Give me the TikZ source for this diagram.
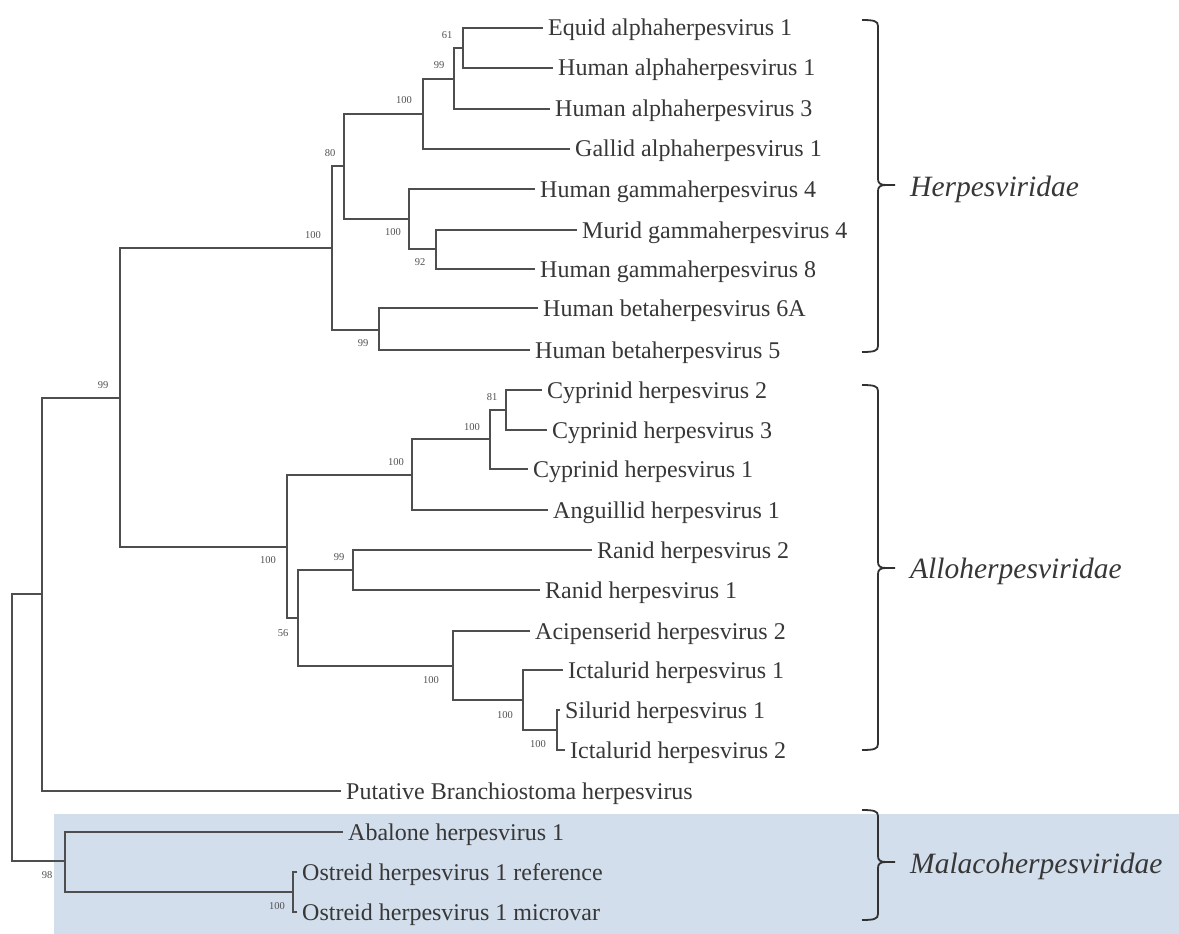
\documentclass[tikz,border=0pt]{standalone}
\usepackage{fontspec}
\setmainfont{Liberation Serif}
\definecolor{branch}{RGB}{78,78,78}
\definecolor{txt}{RGB}{55,55,55}
\definecolor{bsc}{RGB}{80,80,80}
\definecolor{malaco}{RGB}{211,222,236}
\tikzset{
  br/.style={draw=branch, line width=1.4pt, line join=miter},
  brk/.style={draw=txt!90!black, line width=1.8pt},
  leaf/.style={anchor=base west, inner sep=0pt, text=txt, font=\fontsize{24}{28}\selectfont},
  bs/.style={inner sep=0pt, text=bsc, font=\fontsize{10.5}{12}\selectfont},
  fam/.style={anchor=base west, inner sep=0pt, text=txt, font=\fontsize{29.5}{34}\selectfont\itshape}
}
\begin{document}
\begin{tikzpicture}[x=1pt,y=-1pt]
\useasboundingbox (0,0) rectangle (1179,934);
% Malacoherpesviridae background
\fill[malaco] (54,814) rectangle (1179,934);

% internal nodes
\coordinate (R) at (12,727);
\coordinate (A) at (42,594);
\coordinate (B) at (120,398);
\coordinate (H) at (332,248);
\coordinate (H1) at (344,166);
\coordinate (Ha) at (423,114);
\coordinate (Ha1) at (454,79);
\coordinate (Ha2) at (463,48);
\coordinate (Hg) at (409,219);
\coordinate (Hg2) at (436,249);
\coordinate (Hb) at (379,330);
\coordinate (Al) at (287,547);
\coordinate (C) at (412,475);
\coordinate (C1) at (490,439);
\coordinate (C2) at (506,410);
\coordinate (D) at (298,618);
\coordinate (Ra) at (353,570);
\coordinate (E) at (453,666);
\coordinate (F) at (523,700);
\coordinate (G) at (557,730);
\coordinate (M) at (65,861);
\coordinate (O) at (293,892);

% leaf tips
\coordinate (tEq) at (543,28);
\coordinate (tHA1) at (553,68);
\coordinate (tHA3) at (550,109);
\coordinate (tGal) at (570,149);
\coordinate (tHG4) at (535,189);
\coordinate (tMur) at (577,230);
\coordinate (tHG8) at (535,269);
\coordinate (tB6) at (538,308);
\coordinate (tB5) at (530,350);
\coordinate (tCy2) at (542,390);
\coordinate (tCy3) at (547,430);
\coordinate (tCy1) at (528,469);
\coordinate (tAng) at (548,510);
\coordinate (tRa2) at (592,550);
\coordinate (tRa1) at (540,590);
\coordinate (tAci) at (530,631);
\coordinate (tIc1) at (563,670);
\coordinate (tSil) at (560,710);
\coordinate (tIc2) at (565,750);
\coordinate (tPut) at (341,791);
\coordinate (tAba) at (343,832);
\coordinate (tOr) at (297,872);
\coordinate (tOm) at (297,912);

% branches
\foreach \p/\c in {R/A, R/M, A/B, A/tPut, B/H, B/Al, H/H1, H/Hb, H1/Ha, H1/Hg,
  Ha/Ha1, Ha/tGal, Ha1/Ha2, Ha1/tHA3, Ha2/tEq, Ha2/tHA1, Hg/tHG4, Hg/Hg2,
  Hg2/tMur, Hg2/tHG8, Hb/tB6, Hb/tB5, Al/C, Al/D, C/C1, C/tAng, C1/C2, C1/tCy1,
  C2/tCy2, C2/tCy3, D/Ra, D/E, Ra/tRa2, Ra/tRa1, E/tAci, E/F, F/tIc1, F/G,
  G/tSil, G/tIc2, M/tAba, M/O, O/tOr, O/tOm}
  \draw[br] (\p) |- (\c);

% leaf labels
\foreach \t/\s in {tEq/Equid alphaherpesvirus 1, tHA1/Human alphaherpesvirus 1,
  tHA3/Human alphaherpesvirus 3, tGal/Gallid alphaherpesvirus 1,
  tHG4/Human gammaherpesvirus 4, tMur/Murid gammaherpesvirus 4,
  tHG8/Human gammaherpesvirus 8, tB6/Human betaherpesvirus 6A,
  tB5/Human betaherpesvirus 5, tCy2/Cyprinid herpesvirus 2,
  tCy3/Cyprinid herpesvirus 3, tCy1/Cyprinid herpesvirus 1,
  tAng/Anguillid herpesvirus 1, tRa2/Ranid herpesvirus 2,
  tRa1/Ranid herpesvirus 1, tAci/Acipenserid herpesvirus 2,
  tIc1/Ictalurid herpesvirus 1, tSil/Silurid herpesvirus 1,
  tIc2/Ictalurid herpesvirus 2, tPut/Putative Branchiostoma herpesvirus,
  tAba/Abalone herpesvirus 1, tOr/Ostreid herpesvirus 1 reference,
  tOm/Ostreid herpesvirus 1 microvar}
  \node[leaf, xshift=5pt, yshift=-8pt] (l\t) at (\t) {\s};

% bootstrap values
\node[bs] (b1) at (447,35) {61};
\node[bs] (b2) at (439,65) {99};
\node[bs] (b3) at (404,100) {100};
\node[bs] (b4) at (330,153) {80};
\node[bs] (b5) at (393,232) {100};
\node[bs] (b6) at (420,262) {92};
\node[bs] (b7) at (313,235) {100};
\node[bs] (b8) at (363,343) {99};
\node[bs] (b9) at (103,385) {99};
\node[bs] (b10) at (492,397) {81};
\node[bs] (b11) at (472,427) {100};
\node[bs] (b12) at (396,462) {100};
\node[bs] (b13) at (268,560) {100};
\node[bs] (b14) at (339,557) {99};
\node[bs] (b15) at (283,633) {56};
\node[bs] (b16) at (431,680) {100};
\node[bs] (b17) at (505,715) {100};
\node[bs] (b18) at (538,744) {100};
\node[bs] (b19) at (47,875) {98};
\node[bs] (b20) at (277,906) {100};

% brackets
\foreach \ya/\yb/\ym in {20/352/185, 385/750/568, 810/920/862}{
  \draw[brk] (862,\ya) .. controls (874,\ya) and (878,\ya+1) .. (878,\ya+6)
     -- (878,\ym-6) .. controls (878,\ym-2) and (880,\ym) .. (886,\ym) -- (895,\ym);
  \draw[brk] (886,\ym) .. controls (880,\ym) and (878,\ym+2) .. (878,\ym+6)
     -- (878,\yb-6) .. controls (878,\yb-1) and (874,\yb) .. (862,\yb);
}
\node[fam] (fH) at (910,196) {Herpesviridae};
\node[fam] (fA) at (910,578) {Alloherpesviridae};
\node[fam] (fM) at (910,873) {Malacoherpesviridae};
\end{tikzpicture}
\end{document}
